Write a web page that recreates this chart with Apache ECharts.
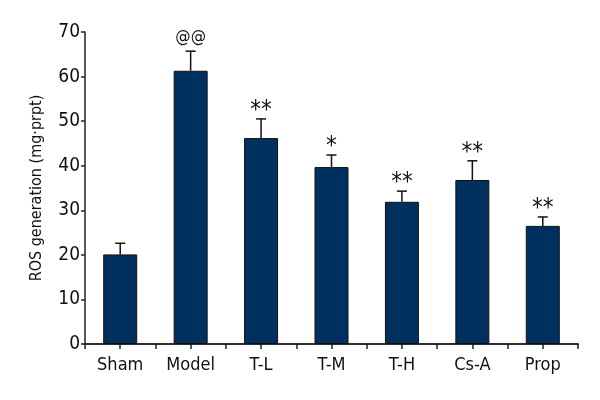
<!DOCTYPE html>
<html>
<head>
<meta charset="utf-8">
<script src="https://cdn.jsdelivr.net/npm/echarts@6/dist/echarts.min.js"></script>
<style>
  html, body { margin: 0; padding: 0; background: #fff; }
</style>
</head>
<body>
<div id="ros" style="width:600px;height:400px"></div>
<script>
var groups = ['Sham', 'Model', 'T-L', 'T-M', 'T-H', 'Cs-A', 'Prop'];
var means = [20.1, 61.3, 46.2, 39.7, 31.9, 36.8, 26.5];
var errTops = [22.6, 65.7, 50.5, 42.4, 34.3, 41.1, 28.5];
var marks = ['', '@@', '**', '*', '**', '**', '**'];

var font = "'DejaVu Sans Condensed', 'Liberation Sans Narrow', sans-serif";

// half-category slots, only used to draw the small ticks at centres and boundaries
var halfSlots = [];
groups.forEach(function (g) { halfSlots.push(g + 'a', g + 'b'); });

var chart = echarts.init(document.getElementById('ros'));

var option = {
  animation: false,
  grid: { left: 85, right: 22, top: 32, bottom: 56 },
  xAxis: [
    {
      type: 'category',
      data: groups,
      axisLine: { lineStyle: { color: '#222', width: 1.5 } },
      axisTick: { show: false },
      axisLabel: { color: '#111', fontSize: 18, fontFamily: font, margin: 12 }
    },
    {
      type: 'category',
      data: halfSlots,
      position: 'bottom',
      axisLine: { show: true, onZero: false, lineStyle: { color: '#222', width: 1.5 } },
      axisTick: { show: true, interval: 0, length: 5, lineStyle: { color: '#222', width: 1.5 } },
      axisLabel: { show: false }
    }
  ],
  yAxis: {
    type: 'value',
    min: 0,
    max: 70,
    interval: 10,
    name: 'ROS generation (mg·prpt)',
    nameLocation: 'middle',
    nameGap: 40,
    nameTextStyle: { color: '#111', fontSize: 16, fontFamily: font },
    splitLine: { show: false },
    axisLine: { show: true, lineStyle: { color: '#222', width: 1.5 } },
    axisTick: { show: true, length: 4, lineStyle: { color: '#222', width: 1.5 } },
    axisLabel: { color: '#111', fontSize: 19, fontFamily: font, margin: 5 }
  },
  series: [
    {
      type: 'bar',
      data: means,
      barWidth: 34,
      itemStyle: { color: '#00305e', borderColor: '#111', borderWidth: 1 },
      z: 2
    },
    {
      type: 'custom',
      z: 3,
      data: groups.map(function (g, i) { return [i, means[i], errTops[i]]; }),
      renderItem: function (params, api) {
        var i = api.value(0);
        var base = api.coord([i, api.value(1)]);
        var top = api.coord([i, api.value(2)]);
        var x = base[0];
        var children = [
          { type: 'line', shape: { x1: x, y1: base[1], x2: x, y2: top[1] },
            style: { stroke: '#111', lineWidth: 1.5 } },
          { type: 'line', shape: { x1: x - 5, y1: top[1], x2: x + 5, y2: top[1] },
            style: { stroke: '#111', lineWidth: 1.5 } }
        ];
        var m = marks[params.dataIndex];
        if (m) {
          var star = m.charAt(0) === '*';
          children.push({
            type: 'text',
            style: {
              text: m, x: x, y: star ? top[1] + 4 : top[1] - 5,
              align: 'center', verticalAlign: 'bottom',
              fill: '#111', fontSize: star ? 24 : 17, fontFamily: font
            }
          });
        }
        return { type: 'group', children: children };
      }
    }
  ]
};

chart.setOption(option);
</script>
</body>
</html>
